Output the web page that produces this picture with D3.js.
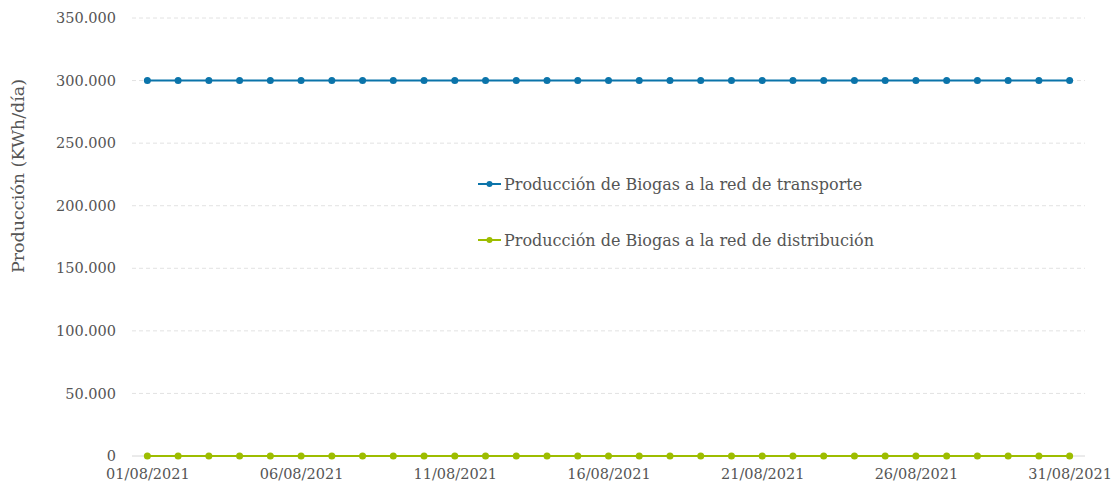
<!DOCTYPE html>
<html>
<head>
<meta charset="utf-8">
<script src="https://cdn.jsdelivr.net/npm/d3@7"></script>
<style>
  body { margin: 0; background: #fff; }
  svg text { font-family: "DejaVu Serif", serif; fill: #555; }
</style>
</head>
<body>
<svg id="chart" width="1111" height="487"></svg>
<script>
// days of August 2021
var days = ["01/08/2021", "02/08/2021", "03/08/2021", "04/08/2021", "05/08/2021", "06/08/2021",
    "07/08/2021", "08/08/2021", "09/08/2021", "10/08/2021", "11/08/2021", "12/08/2021",
    "13/08/2021", "14/08/2021", "15/08/2021", "16/08/2021", "17/08/2021", "18/08/2021",
    "19/08/2021", "20/08/2021", "21/08/2021", "22/08/2021", "23/08/2021", "24/08/2021",
    "25/08/2021", "26/08/2021", "27/08/2021", "28/08/2021", "29/08/2021", "30/08/2021",
    "31/08/2021"];

var transporte = [300000, 300000, 300000, 300000, 300000, 300000, 300000, 300000, 300000, 300000,
    300000, 300000, 300000, 300000, 300000, 300000, 300000, 300000, 300000, 300000,
    300000, 300000, 300000, 300000, 300000, 300000, 300000, 300000, 300000, 300000, 300000];

var distribucion = [0, 0, 0, 0, 0, 0, 0, 0, 0, 0, 0, 0, 0, 0, 0, 0, 0, 0, 0, 0,
    0, 0, 0, 0, 0, 0, 0, 0, 0, 0, 0];

var yTicks = [0, 50000, 100000, 150000, 200000, 250000, 300000, 350000];
var xTickLabels = ["01/08/2021", "06/08/2021", "11/08/2021", "16/08/2021", "21/08/2021", "26/08/2021", "31/08/2021"];

var seriesNames = ["Producción de Biogas a la red de transporte", "Producción de Biogas a la red de distribución"];
var seriesColors = ["#0b74aa", "#9dbd00"];

var margin = {top: 18, right: 26, bottom: 31, left: 132};
var width = 1111 - margin.left - margin.right;
var height = 487 - margin.top - margin.bottom;

var svg = d3.select('#chart');
var g = svg.append('g')
    .attr('transform', 'translate(' + margin.left + ',' + margin.top + ')');

var x = d3.scalePoint()
    .domain(days)
    .range([0, width])
    .padding(0.5);

var y = d3.scaleLinear()
    .domain([0, 350000])
    .range([height, 0]);

var fmt = function (v) {
    return d3.format(',')(v).replace(/,/g, '.');
};

// grid lines
g.selectAll('.grid')
    .data(yTicks)
    .enter()
    .append('line')
    .attr('x1', 0)
    .attr('x2', width)
    .attr('y1', d => y(d))
    .attr('y2', d => y(d))
    .attr('stroke', d => d === 0 ? '#d6d6d6' : '#e2e2e2')
    .attr('stroke-dasharray', d => d === 0 ? null : '4,3');

// y axis
var yAxis = d3.axisLeft(y).tickValues(yTicks).tickFormat(fmt).tickSize(0).tickPadding(16);
g.append('g')
    .call(yAxis)
    .call(a => a.select('.domain').remove())
    .selectAll('text')
    .style('font-size', '14.5px')
    .attr('fill', '#555');

// x axis
var xAxis = d3.axisBottom(x).tickValues(xTickLabels).tickSize(0).tickPadding(13);
g.append('g')
    .attr('transform', 'translate(0,' + height + ')')
    .call(xAxis)
    .call(a => a.select('.domain').remove())
    .selectAll('text')
    .style('font-size', '14.5px')
    .attr('fill', '#555');

// axis title
svg.append('text')
    .attr('transform', 'translate(24,176) rotate(-90)')
    .attr('text-anchor', 'middle')
    .style('font-size', '17.5px')
    .text('Producción (KWh/día)');

// series
var series = [transporte, distribucion];
var line = d3.line()
    .x((d, i) => x(days[i]))
    .y(d => y(d));

series.forEach(function (vals, k) {
    g.append('path')
        .datum(vals)
        .attr('d', line)
        .attr('fill', 'none')
        .attr('stroke', seriesColors[k])
        .attr('stroke-width', 2);
    g.selectAll('.pt' + k)
        .data(vals)
        .enter()
        .append('circle')
        .attr('cx', (d, i) => x(days[i]))
        .attr('cy', d => y(d))
        .attr('r', 3.5)
        .attr('fill', seriesColors[k]);
});

// legend
var legend = svg.append('g').attr('transform', 'translate(478,184)');
seriesNames.forEach(function (name, k) {
    var item = legend.append('g').attr('transform', 'translate(0,' + (k * 56) + ')');
    item.append('line')
        .attr('x1', 0).attr('x2', 23)
        .attr('stroke', seriesColors[k])
        .attr('stroke-width', 2);
    item.append('circle')
        .attr('cx', 11.5)
        .attr('r', 3)
        .attr('fill', seriesColors[k]);
    item.append('text')
        .attr('x', 26)
        .attr('dy', '0.35em')
        .style('font-size', '16px')
        .text(name);
});
</script>
</body>
</html>
